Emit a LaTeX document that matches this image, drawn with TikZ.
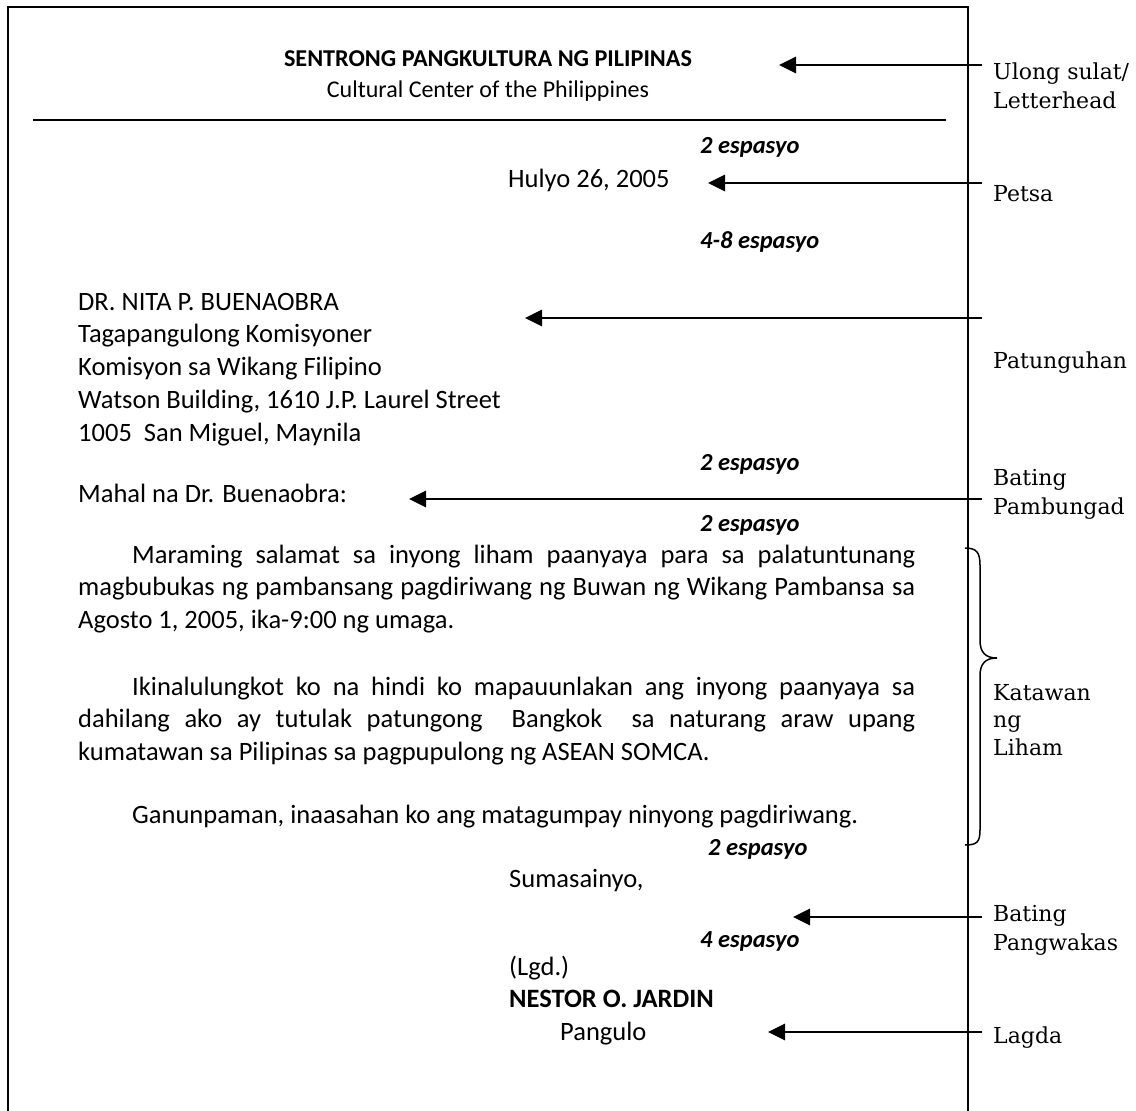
\documentclass[tikz,border=0pt]{standalone}
\usepackage{fontspec}
\setmainfont{Carlito}
\newfontfamily\sidefont{DejaVu Serif}
\usetikzlibrary{arrows.meta}

\begin{document}
\begin{tikzpicture}[x=1pt,y=-1pt,
	txt/.style={anchor=base west,inner sep=0pt,font=\fontsize{26.5}{32.75}\selectfont},
	para/.style={txt,text width=837pt,align=justify},
	gap/.style={anchor=base west,inner sep=0pt,font=\fontsize{24.5}{28}\selectfont\bfseries\itshape},
	side/.style={anchor=base west,inner sep=0pt,align=left,font=\sidefont\fontsize{22}{28.5}\selectfont},
	pointer/.style={line width=2.8pt,-{Triangle[length=17pt,width=16pt]}}]
	\useasboundingbox (0,0) rectangle (1136,1111);
	% page
	\draw[line width=1.5pt] (8,1111) -- (8,7) -- (968,7) -- (968,1111);
	\draw[line width=2pt] (33,120) -- (946,120);
	% letterhead
	\node[txt,anchor=base,font=\fontsize{24.2}{28}\selectfont\bfseries] (head) at (488,66) {SENTRONG PANGKULTURA NG PILIPINAS};
	\node[txt,anchor=base,font=\fontsize{24}{28}\selectfont] (head2) at (488,97) {Cultural Center of the Philippines};
	% letter
	\node[gap] (g1) at (700,153) {2 espasyo};
	\node[txt] (date) at (508,187) {Hulyo 26, 2005};
	\node[gap] (g2) at (700,248) {4-8 espasyo};
	\node[txt,align=left] (addr) at (78,441) {DR. NITA P. BUENAOBRA\\Tagapangulong Komisyoner\\Komisyon sa Wikang Filipino\\Watson Building, 1610 J.P. Laurel Street\\1005\ \ San Miguel, Maynila};
	\node[gap] (g3) at (700,470) {2 espasyo};
	\node[txt] (greet) at (78,502) {Mahal na Dr. Buenaobra:};
	\node[gap] (g4) at (700,531) {2 espasyo};
	\node[para] (p1) at (78,563) {\noindent\hspace*{54pt}Maraming salamat sa inyong liham paanyaya para sa palatuntunang\linebreak magbubukas ng pambansang pagdiriwang ng Buwan ng Wikang Pambansa sa\linebreak Agosto 1, 2005, ika-9:00 ng umaga.};
	\node[para] (p2) at (78,695) {\noindent\hspace*{54pt}Ikinalulungkot ko na hindi ko mapauunlakan ang inyong paanyaya sa\linebreak dahilang ako ay tutulak patungong\ \ Bangkok\ \ sa naturang araw upang\linebreak kumatawan sa Pilipinas sa pagpupulong ng ASEAN SOMCA.};
	\node[txt] (p3) at (132,823) {Ganunpaman, inaasahan ko ang matagumpay ninyong pagdiriwang.};
	\node[gap] (g5) at (708,855) {2 espasyo};
	\node[txt] (close) at (509,887) {Sumasainyo,};
	\node[gap] (g6) at (700,947) {4 espasyo};
	\node[txt] (lgd) at (509,975) {(Lgd.)};
	\node[txt,font=\fontsize{26.5}{32}\selectfont\bfseries] (name) at (509,1007) {NESTOR O. JARDIN};
	\node[txt] (title) at (560,1040) {Pangulo};
	% side labels
	\node[side] (l1) at (993,108) {Ulong sulat/\\Letterhead};
	\node[side] (l2) at (993,201) {Petsa};
	\node[side] (l3) at (993,368) {Patunguhan};
	\node[side] (l4) at (993,514) {Bating\\Pambungad};
	\node[side,font=\sidefont\fontsize{22}{27.5}\selectfont] (l5) at (993,755) {Katawan\\ng\\Liham};
	\node[side] (l6) at (993,950) {Bating\\Pangwakas};
	\node[side] (l7) at (993,1043) {Lagda};
	% arrows
	\coordinate (a1) at (982,65);   \coordinate (t1) at (779,65);
	\coordinate (a2) at (982,183);  \coordinate (t2) at (708,183);
	\coordinate (a3) at (982,318);  \coordinate (t3) at (525,318);
	\coordinate (a4) at (982,499);  \coordinate (t4) at (409,499);
	\coordinate (a6) at (982,917);  \coordinate (t6) at (793,917);
	\coordinate (a7) at (982,1032); \coordinate (t7) at (768,1032);
	\draw[pointer] (a1) -- (t1);
	\draw[pointer] (a2) -- (t2);
	\draw[pointer] (a3) -- (t3);
	\draw[pointer] (a4) -- (t4);
	\draw[pointer] (a6) -- (t6);
	\draw[pointer] (a7) -- (t7);
	% brace
	\draw[line width=1.5pt] (965,548) .. controls (977,548) and (980,553) .. (980,565) -- (980,640)
		.. controls (980,652) and (985,658) .. (997,658)
		.. controls (985,658) and (980,664) .. (980,676) -- (980,830)
		.. controls (980,842) and (977,845) .. (965,845);
\end{tikzpicture}
\end{document}
